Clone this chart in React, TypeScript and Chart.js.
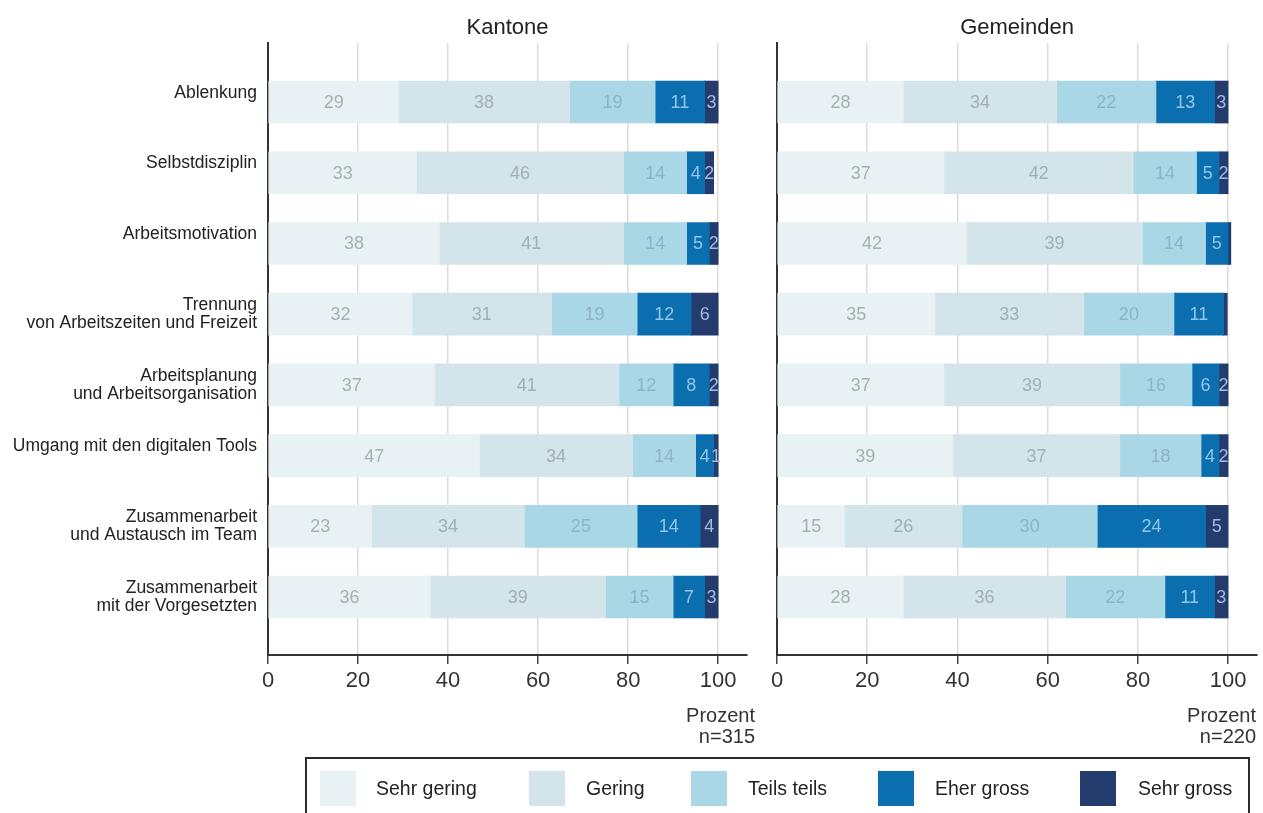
import { useEffect, useRef } from 'react';
import { Chart, registerables } from 'chart.js';

Chart.register(...registerables);

const FONT = '"Liberation Sans", Arial, Helvetica, sans-serif';

// Row labels (single-line labels carry an empty second line, as in the source layout)
const categories: string[][] = [
  ['Ablenkung', ''],
  ['Selbstdisziplin', ''],
  ['Arbeitsmotivation', ''],
  ['Trennung', 'von Arbeitszeiten und Freizeit'],
  ['Arbeitsplanung', 'und Arbeitsorganisation'],
  ['Umgang mit den digitalen Tools', ''],
  ['Zusammenarbeit', 'und Austausch im Team'],
  ['Zusammenarbeit', 'mit der Vorgesetzten'],
];

const seriesNames = ['Sehr gering', 'Gering', 'Teils teils', 'Eher gross', 'Sehr gross'];
const seriesColors = ['#e8f1f4', '#d4e4eb', '#a9d7e6', '#0b6eae', '#243b6e'];
const valueLabelColors = ['#a6b1b5', '#a2afb4', '#8eb4c3', '#93c6e6', '#a6badb'];

// Kantone, n=315 (percent)
const kantoneSehrGering = [29, 33, 38, 32, 37, 47, 23, 36];
const kantoneGering = [38, 46, 41, 31, 41, 34, 34, 39];
const kantoneTeilsTeils = [19, 14, 14, 19, 12, 14, 25, 15];
const kantoneEherGross = [11, 4, 5, 12, 8, 4, 14, 7];
const kantoneSehrGross = [3, 2, 2, 6, 2, 1, 4, 3];

// Gemeinden, n=220 (percent)
const gemeindenSehrGering = [28, 37, 42, 35, 37, 39, 15, 28];
const gemeindenGering = [34, 42, 39, 33, 39, 37, 26, 36];
const gemeindenTeilsTeils = [22, 14, 14, 20, 16, 18, 30, 22];
const gemeindenEherGross = [13, 5, 5, 11, 6, 4, 24, 11];
const gemeindenSehrGross = [3, 2, 0.6, 0.8, 2, 2, 5, 3];

const xTicks = [0, 20, 40, 60, 80, 100];

// Horizontal positions of the legend entries (page pixels)
const legendSwatchLeft = [320, 529, 691, 878, 1080];
const legendTextLeft = [376, 586, 748, 935, 1138];

// Writes each segment's value in the middle of the segment
const valueLabelPlugin = {
  id: 'valueLabels',
  afterDatasetsDraw(chart: any) {
    const ctx = chart.ctx;
    ctx.save();
    ctx.font = `18px ${FONT}`;
    ctx.textAlign = 'center';
    ctx.textBaseline = 'middle';
    chart.data.datasets.forEach((ds: any, s: number) => {
      const meta = chart.getDatasetMeta(s);
      meta.data.forEach((el: any, i: number) => {
        const v = ds.data[i].x;
        if (v < 1) return;
        const { x, base, y } = el.getProps(['x', 'base', 'y'], true);
        ctx.fillStyle = valueLabelColors[s];
        ctx.fillText(String(v), (x + base) / 2, y + 1);
      });
    });
    ctx.restore();
  },
};

// Panel heading above the plot and the unit / sample-size note under the axis
const panelTextPlugin = {
  id: 'panelText',
  afterDraw(chart: any, _args: any, opts: any) {
    const { ctx, chartArea } = chart;
    ctx.save();
    ctx.fillStyle = '#222';
    ctx.font = `22px ${FONT}`;
    ctx.textAlign = 'center';
    ctx.textBaseline = 'alphabetic';
    ctx.fillText(opts.title, (chartArea.left + chartArea.right) / 2, 34);
    ctx.fillStyle = '#333';
    ctx.font = `20px ${FONT}`;
    ctx.textAlign = 'right';
    const xr = chartArea.right + opts.noteShift;
    ctx.fillText('Prozent', xr, 722);
    ctx.fillText(opts.n, xr, 743);
    ctx.restore();
  },
};

type PanelProps = {
  title: string;
  n: string;
  series: number[][];
  showCategories: boolean;
  left: number;
  width: number;
  yAxisWidth: number;
  rightPad: number;
  noteShift: number;
};

function Panel(p: PanelProps) {
  const ref = useRef<HTMLCanvasElement>(null);

  useEffect(() => {
    const canvas = ref.current;
    if (!canvas) return;
    const datasets = p.series.map((vals, s) => ({
      label: seriesNames[s],
      data: vals.map((v, i) => ({ x: v, y: i })),
      backgroundColor: seriesColors[s],
      borderWidth: 0,
      barThickness: 42,
      stack: 'all',
    }));
    const chart = new Chart(canvas, {
      type: 'bar',
      data: { datasets } as any,
      options: {
        indexAxis: 'y',
        animation: false,
        responsive: false,
        maintainAspectRatio: false,
        devicePixelRatio: 1,
        layout: { padding: { top: 43, right: p.rightPad, left: 0, bottom: 0 } },
        plugins: {
          legend: { display: false },
          tooltip: { enabled: false },
          title: { display: false },
          panelText: { title: p.title, n: p.n, noteShift: p.noteShift },
        } as any,
        scales: {
          x: {
            type: 'linear',
            stacked: true,
            min: 0,
            max: 106.4,
            afterBuildTicks: (axis: any) => {
              axis.ticks = xTicks.map((v) => ({ value: v }));
            },
            afterFit: (axis: any) => {
              axis.height = 813 - 655;
            },
            grid: {
              color: '#dcdcdc',
              lineWidth: 1.5,
              tickColor: '#444',
              tickLength: 9,
              tickWidth: 1.5,
            },
            border: { display: true, color: '#333', width: 2 },
            ticks: {
              font: { family: FONT, size: 22 },
              color: '#333',
              padding: 4,
              maxRotation: 0,
              autoSkip: false,
            },
          },
          y: {
            type: 'linear',
            stacked: true,
            reverse: true,
            offset: false,
            min: -0.835,
            max: 7.82,
            afterBuildTicks: (axis: any) => {
              axis.ticks = categories.map((_, i) => ({ value: i }));
            },
            afterFit: (axis: any) => {
              axis.width = p.yAxisWidth;
            },
            grid: { display: false, drawTicks: false, offset: false },
            border: { display: true, color: '#333', width: 2 },
            ticks: {
              display: p.showCategories,
              autoSkip: false,
              padding: 11,
              color: '#222',
              font: { family: FONT, size: 17.5, lineHeight: 1.05 },
              callback: (v: any) => categories[v] ?? '',
            },
          },
        } as any,
      },
      plugins: [valueLabelPlugin, panelTextPlugin],
    });
    return () => chart.destroy();
  }, []);

  return (
    <canvas
      ref={ref}
      width={p.width}
      height={813}
      style={{ position: 'absolute', left: p.left, top: 0, width: p.width, height: 813 }}
    />
  );
}

function Legend() {
  return (
    <div
      style={{
        position: 'absolute',
        left: 305,
        top: 757,
        width: 945,
        height: 90,
        border: '2px solid #2a2a2a',
        boxSizing: 'border-box',
      }}
    >
      {seriesNames.map((name, i) => (
        <div key={name}>
          <div
            style={{
              position: 'absolute',
              left: legendSwatchLeft[i] - 307,
              top: 12,
              width: 36,
              height: 35,
              background: seriesColors[i],
            }}
          />
          <div
            style={{
              position: 'absolute',
              left: legendTextLeft[i] - 307,
              top: 12,
              height: 35,
              lineHeight: '35px',
              fontFamily: FONT,
              fontSize: 19.5,
              color: '#222',
              whiteSpace: 'nowrap',
            }}
          >
            {name}
          </div>
        </div>
      ))}
    </div>
  );
}

export default function App() {
  return (
    <div
      style={{
        position: 'absolute',
        left: 0,
        top: 0,
        width: 1263,
        height: 813,
        overflow: 'hidden',
        background: '#fff',
      }}
    >
      <Panel
        title="Kantone"
        n="n=315"
        series={[kantoneSehrGering, kantoneGering, kantoneTeilsTeils, kantoneEherGross, kantoneSehrGross]}
        showCategories={true}
        left={0}
        width={760}
        yAxisWidth={268}
        rightPad={13}
        noteShift={8}
      />
      <Panel
        title="Gemeinden"
        n="n=220"
        series={[gemeindenSehrGering, gemeindenGering, gemeindenTeilsTeils, gemeindenEherGross, gemeindenSehrGross]}
        showCategories={false}
        left={760}
        width={503}
        yAxisWidth={17}
        rightPad={6}
        noteShift={-1}
      />
      <Legend />
    </div>
  );
}
